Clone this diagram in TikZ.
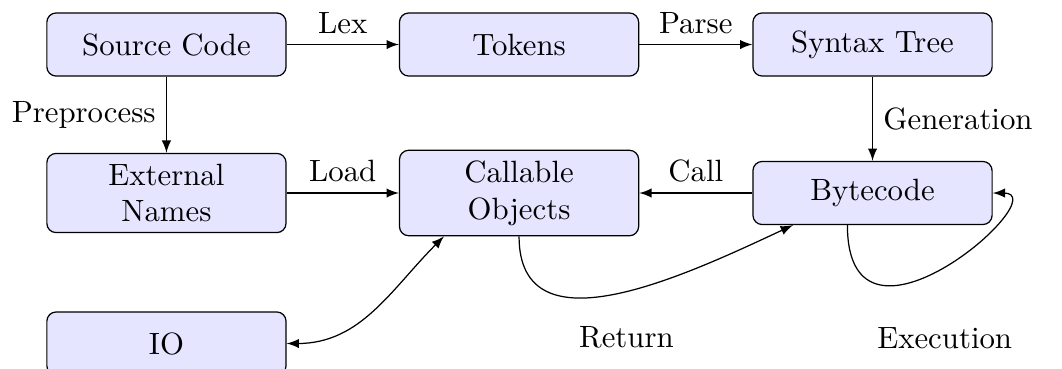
\documentclass[tikz,border=0pt]{standalone}
\usepackage{tikz}
\usetikzlibrary{positioning, calc}
\usetikzlibrary{arrows.meta}

\begin{document}
\begin{tikzpicture}[>=latex,draw=black!100]
	\def \colone{1.90cm}
	\def \coltwo{5.925cm}
	\def \colthree{9.96cm}
	\def \rowoneht{-0.508cm}
	\def \rowtwoht{-2.203cm}
	\def \rowthreeht{-3.921cm}
	\tikzstyle{b-node}=[draw,fill=blue!10,rounded corners=3pt,align=center,minimum width=2.73cm,minimum height=0.72cm]
	\useasboundingbox (0,0) rectangle (12.123cm,-4.212cm);

	% front end
	\node[b-node] 	(src)	at (\colone,\rowoneht)		{Source Code};
	\node[b-node] 	(tok)	at (\coltwo,\rowoneht)		{Tokens};
	\node[b-node] 	(tree)	at (\colthree,\rowoneht)	{Syntax Tree};

	% runtime
	\node[b-node] 	(ext)		at (\colone,\rowtwoht)		{External\\Names};
	\node[b-node] 	(callobj)	at (\coltwo,\rowtwoht)		{Callable\\Objects};
	\node[b-node] 	(byte)		at (\colthree,\rowtwoht)	{Bytecode};

	% io
	\node[b-node] 	(io)	at (\colone,\rowthreeht)	{IO};

	\path[->]
		(src)	edge	node[above]	{Lex}	(tok)
		(tok)	edge	node[above]	{Parse}	(tree)
		(src)	edge	node[left]	{Preprocess}	(ext)
		(tree)	edge	node[right]	{Generation}	(byte)
		%
		(ext)	edge	node[above]	{Load}	(callobj)
		(byte)	edge	node[above]	{Call}	(callobj)
		%
		(callobj.south)	edge[out=-90,in=205,looseness=1.1]	node[below=0.25cm,xshift=0.12cm]	{Return}	(byte.202)
		(byte.-128)	edge[out=-90,in=0,out distance=1.75cm,in distance=0.75cm]	node[below=0.57cm]	{Execution}	(byte.east);
	\path[<->]
		(io.east)	edge[out=0,in=225]	(callobj.210);

\end{tikzpicture}
\end{document}
